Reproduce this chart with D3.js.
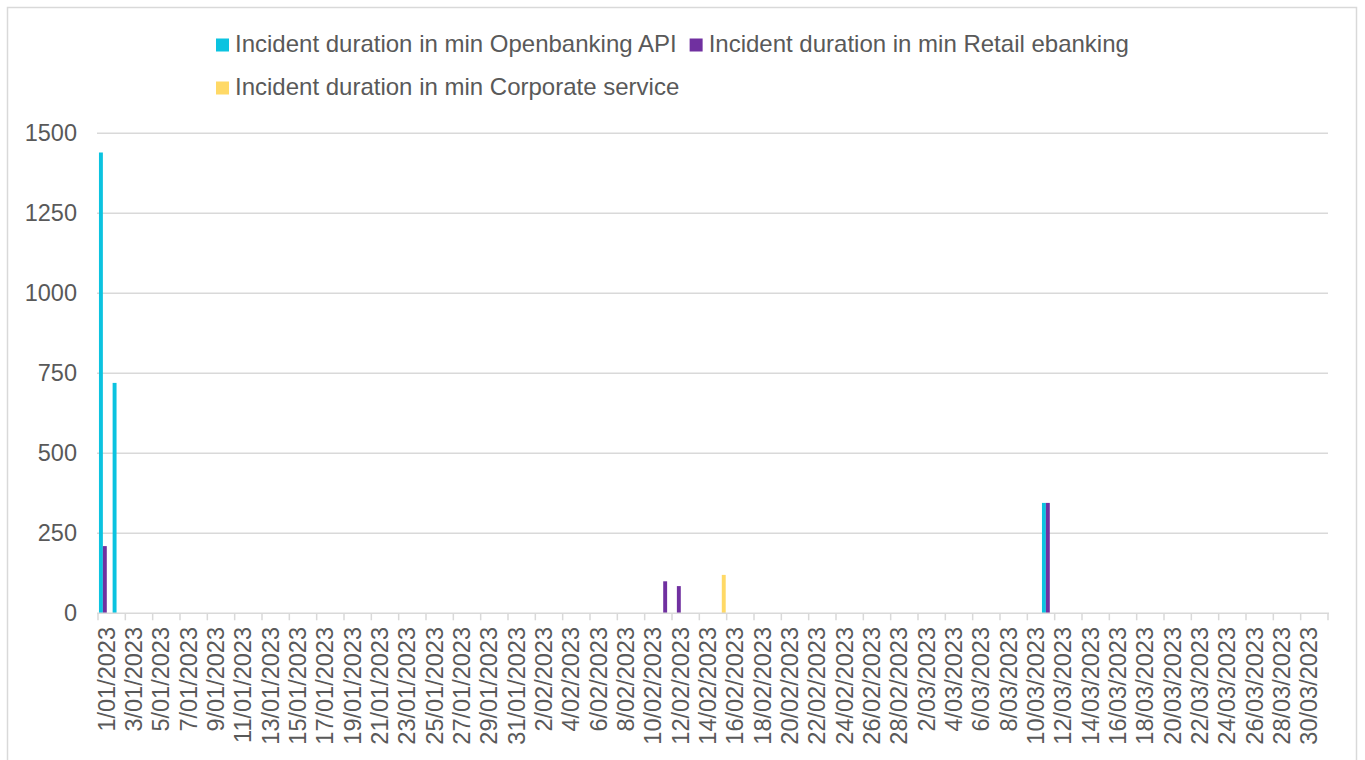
<!DOCTYPE html>
<html>
<head>
<meta charset="utf-8">
<script src="https://cdn.jsdelivr.net/npm/d3@7"></script>
<style>
  html, body { margin: 0; padding: 0; background: #fff; }
  svg { display: block; font-family: "Liberation Sans", Arial, sans-serif; }
</style>
</head>
<body>
<svg id="chart" width="1365" height="760"></svg>
<script>
// ---- Data ----
const seriesNames = [
  "Incident duration in min Openbanking API",
  "Incident duration in min Retail ebanking",
  "Incident duration in min Corporate service"
];
const seriesColors = ["#0BC3E0", "#7030A0", "#FFD966"];

// Categories: every day of Q1 2023 (d/mm/yyyy)
const categories = d3.timeDay.range(new Date(2023, 0, 1), new Date(2023, 3, 1))
  .map(d3.timeFormat("%-d/%m/%Y"));

// Non-zero values per series (all other days are 0 / empty)
const openbankingValues = [["1/01/2023", 1440], ["2/01/2023", 720], ["11/03/2023", 345]];
const retailValues      = [["1/01/2023", 210], ["11/02/2023", 100], ["12/02/2023", 85], ["11/03/2023", 345]];
const corporateValues   = [["15/02/2023", 120]];

const yTicks = [0, 250, 500, 750, 1000, 1250, 1500];

// ---- Build table ----
const seriesValues = [openbankingValues, retailValues, corporateValues];
const table = [];
seriesValues.forEach((vals, si) => {
  vals.forEach(([cat, v]) => table.push({ cat, series: seriesNames[si], value: v, color: seriesColors[si] }));
});

// ---- Layout ----
const svg = d3.select("#chart");
const textColor = "#595959";
const gridColor = "#D9D9D9";
const fontSize = 23.5;
const plotLeft = 98, plotRight = 1328, plotTop = 133.3, plotBottom = 613.3;

// outer border
svg.append("rect")
  .attr("x", 7.5).attr("y", 7.5).attr("width", 1349).attr("height", 770)
  .attr("fill", "none").attr("stroke", gridColor).attr("stroke-width", 1.5);

const x = d3.scaleBand().domain(categories).range([plotLeft, plotRight]).padding(0);
const bw = x.bandwidth();
const x1 = d3.scaleBand().domain(seriesNames).range([bw * 0.07, bw * 0.93]).padding(0);
const y = d3.scaleLinear().domain([0, 1500]).range([plotBottom, plotTop]);

// gridlines
svg.append("g").selectAll("line").data(yTicks.filter(t => t > 0)).join("line")
  .attr("x1", plotLeft - 1).attr("x2", plotRight)
  .attr("y1", d => y(d)).attr("y2", d => y(d))
  .attr("stroke", gridColor).attr("stroke-width", 1.5);

// y axis labels
const yAxis = d3.axisLeft(y).tickValues(yTicks).tickFormat(d3.format("d")).tickSize(0).tickPadding(0);
const gy = svg.append("g").attr("transform", `translate(77,0)`).call(yAxis);
gy.select(".domain").remove();
gy.selectAll("text").attr("fill", textColor).style("font-size", fontSize + "px")
  .style("font-family", '"Liberation Sans", Arial, sans-serif');

// bars
svg.append("g").selectAll("rect").data(table).join("rect")
  .attr("x", d => x(d.cat) + x1(d.series))
  .attr("width", x1.bandwidth())
  .attr("y", d => y(d.value))
  .attr("height", d => y(0) - y(d.value))
  .attr("fill", d => d.color);

// x axis line
svg.append("line").attr("x1", plotLeft - 1).attr("x2", plotRight + 1)
  .attr("y1", plotBottom).attr("y2", plotBottom)
  .attr("stroke", gridColor).attr("stroke-width", 1.5);

// tick marks every 2 categories (category boundaries)
const tickIdx = d3.range(0, categories.length + 1, 2);
svg.append("g").selectAll("line").data(tickIdx).join("line")
  .attr("x1", i => plotLeft + i * bw).attr("x2", i => plotLeft + i * bw)
  .attr("y1", plotBottom).attr("y2", plotBottom + 7)
  .attr("stroke", gridColor).attr("stroke-width", 1.5);

// x labels (every other category)
const labelCats = categories.filter((c, i) => i % 2 === 0);
svg.append("g").selectAll("text").data(labelCats).join("text")
  .attr("transform", d => `translate(${x(d) + bw / 2 + 1.5},627) rotate(-90)`)
  .attr("text-anchor", "end")
  .attr("dy", "0.35em")
  .attr("fill", textColor)
  .style("font-size", fontSize + "px")
  .text(d => d);

// legend
const legendFont = 24;
const leg = svg.append("g");
const rows = [[0, 1], [2]];
const rowBaselines = [52, 95];
rows.forEach((row, ri) => {
  let cx = 216;
  row.forEach(si => {
    leg.append("rect").attr("x", cx).attr("y", rowBaselines[ri] - 13.5)
      .attr("width", 13).attr("height", 13).attr("fill", seriesColors[si]);
    const t = leg.append("text").attr("x", cx + 19).attr("y", rowBaselines[ri])
      .attr("fill", textColor).style("font-size", legendFont + "px").text(seriesNames[si]);
    cx = cx + 19 + t.node().getComputedTextLength() + 13;
  });
});
</script>
</body>
</html>
